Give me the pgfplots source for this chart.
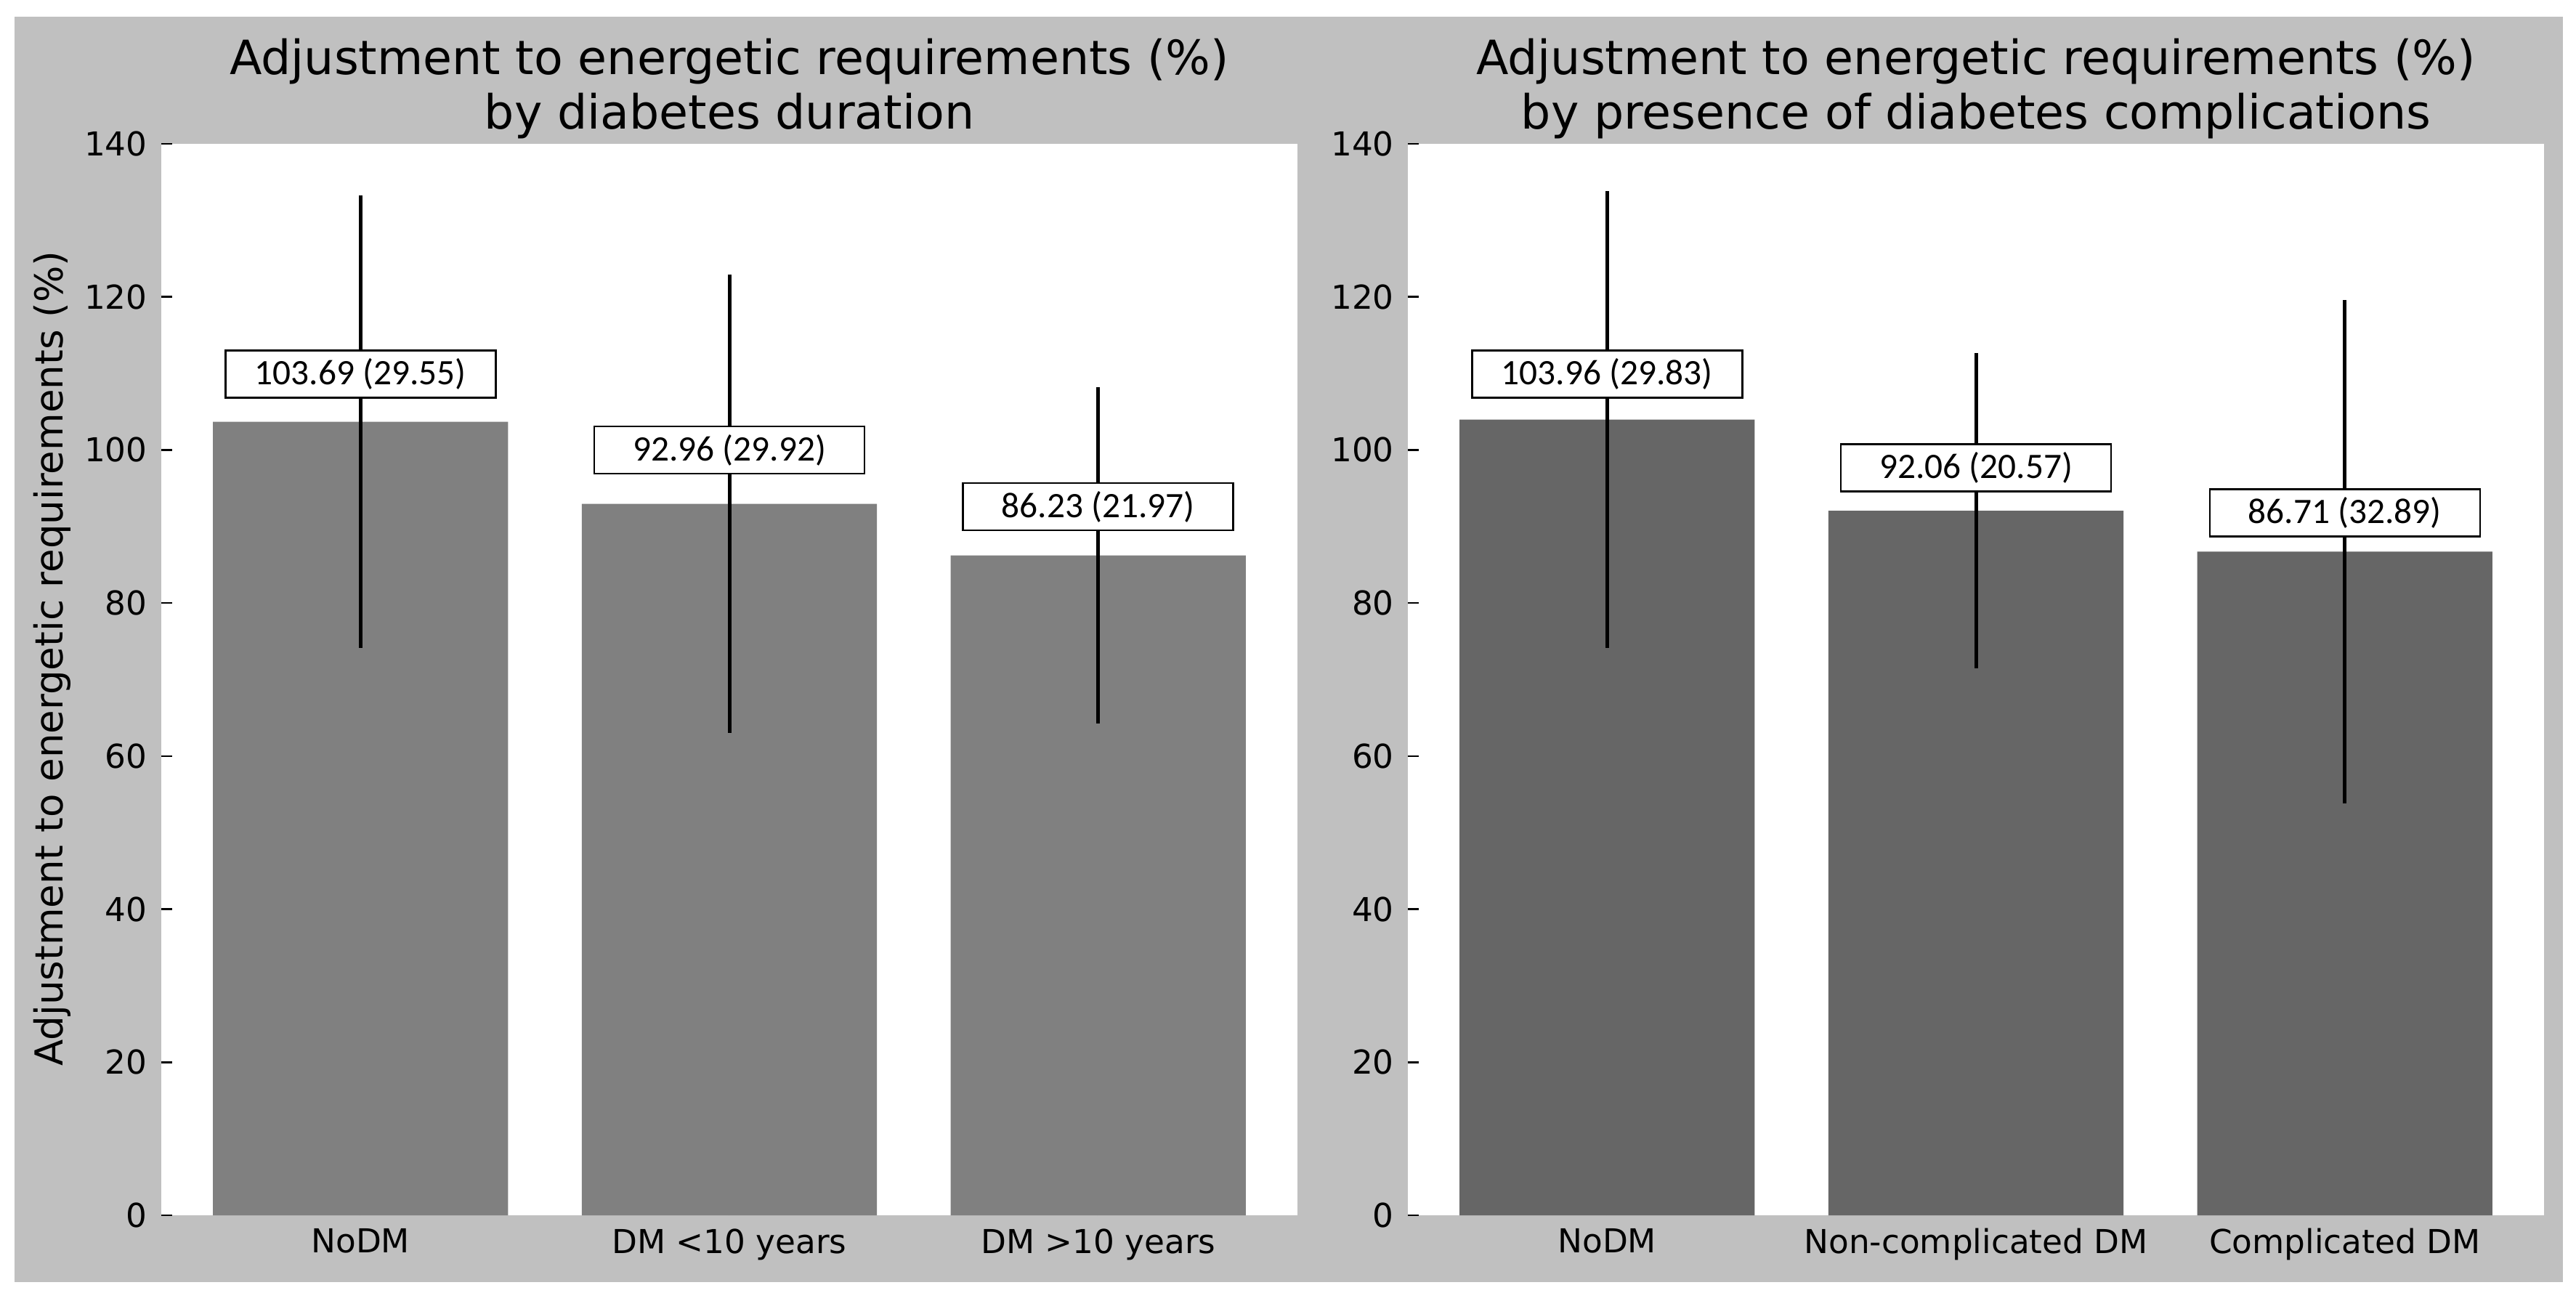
\documentclass[border=0pt]{standalone}
\usepackage{pgfplots}
\pgfplotsset{compat=1.18}
\usepackage{pgfplotstable}
\usepackage{fontspec}
\setmainfont{DejaVu Sans}
\newfontfamily\annfont{Carlito}

\definecolor{panelgray}{RGB}{192,192,192}
\definecolor{barA}{RGB}{128,128,128}
\definecolor{barB}{RGB}{102,102,102}

% x, mean, sd, label height, label text
\pgfplotstableread{
x m sd ly lab
0 103.69 29.55 109.9 {103.69 (29.55)}
1 92.96 29.92 100.0 {92.96 (29.92)}
2 86.23 21.97 92.6 {86.23 (21.97)}
}\durtab

\pgfplotstableread{
x m sd ly lab
0 103.96 29.83 109.9 {103.96 (29.83)}
1 92.06 20.57 97.7 {92.06 (20.57)}
2 86.71 32.89 91.8 {86.71 (32.89)}
}\comptab

\pgfplotsset{
  panel/.style={
    width=234.6pt, height=221.25pt, scale only axis,
    xmin=-0.54, xmax=2.54, ymin=0, ymax=140,
    axis background/.style={fill=white},
    axis line style={draw=none},
    xtick={0,1,2}, ytick={0,20,...,140},
    tick align=inside, major tick length=2.25pt,
    xtick pos=left, ytick pos=left,
    tick style={black, line width=0.4pt},
    ticklabel style={font=\fontsize{6.8}{8}\selectfont, inner sep=0pt},
    yticklabel style={xshift=-2.7pt},
    xticklabel style={yshift=-2.55pt},
    /pgf/number format/assume math mode=true,
    clip=false,
  },
  errs/.style={error bars/.cd, y dir=both, y explicit, error mark=none,
    error bar style={black, line width=0.75pt}},
  lbls/.style={only marks, mark=none, point meta=explicit symbolic,
    nodes near coords,
    nodes near coords style={font=\annfont\fontsize{7.4}{8.5}\selectfont,
      draw=black, fill=white, line width=0.4pt, inner sep=0pt,
      minimum width=55.8pt, minimum height=9.75pt, anchor=center}},
}

\begin{document}
\begin{tikzpicture}
\fill[white] (0,0) rectangle (531.9pt,268.5pt);
\useasboundingbox (0,0) rectangle (531.9pt,268.5pt);
\fill[panelgray] (3pt,3.75pt) rectangle (529.2pt,265.05pt);

% left panel
\begin{axis}[panel, at={(33.3pt,17.55pt)}, anchor=south west,
    xticklabels={NoDM, DM <10 years, DM >10 years}]
  \addplot[ybar, bar width=0.8, fill=barA, draw=none, errs]
    table[x=x, y=m, y error=sd] {\durtab};
  \addplot[lbls] table[x=x, y=ly, meta=lab] {\durtab};
\end{axis}

% right panel
\begin{axis}[panel, at={(290.7pt,17.55pt)}, anchor=south west,
    xticklabels={NoDM, Non-complicated DM, Complicated DM}]
  \addplot[ybar, bar width=0.8, fill=barB, draw=none, errs]
    table[x=x, y=m, y error=sd] {\comptab};
  \addplot[lbls] table[x=x, y=ly, meta=lab] {\comptab};
\end{axis}

% titles and y label
\begin{scope}[every node/.style={font=\fontsize{9.75}{11.25}\selectfont, inner sep=0pt, anchor=base}]
  \node at (150.6pt,253.2pt) {Adjustment to energetic requirements (\%)};
  \node at (150.6pt,241.95pt) {by diabetes duration};
  \node at (408pt,253.2pt) {Adjustment to energetic requirements (\%)};
  \node at (408pt,241.95pt) {by presence of diabetes complications};
\end{scope}
\node[rotate=90, font=\fontsize{7.95}{9}\selectfont, inner sep=0pt]
  at (10.8pt,132.5pt) {Adjustment to energetic requirements (\%)};
\end{tikzpicture}
\end{document}
